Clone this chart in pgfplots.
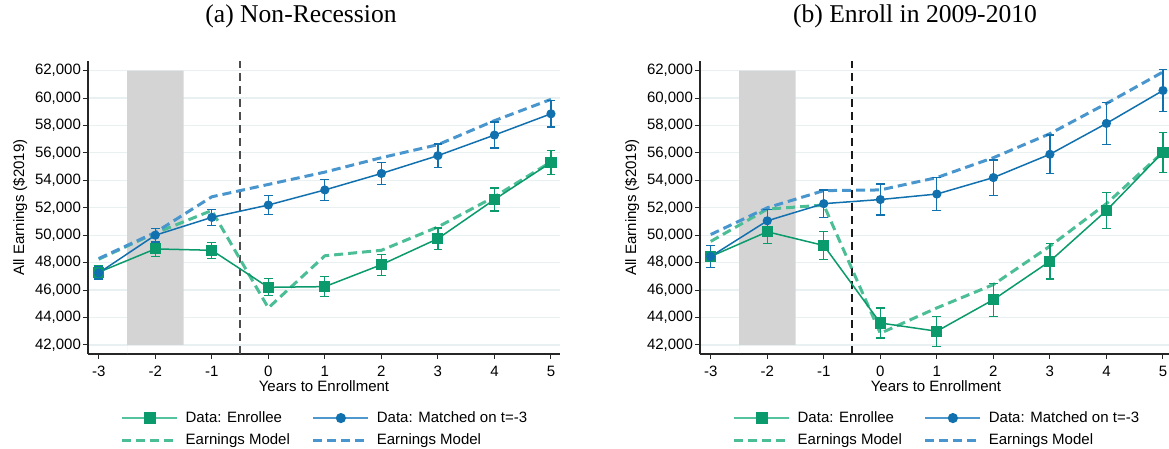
\documentclass[border=0pt]{standalone}
\usepackage{fontspec}
\setmainfont{Liberation Sans}
\newfontfamily\titlefont{Liberation Serif}
\usepackage{pgfplots}
\pgfplotsset{compat=1.18}
\definecolor{gD}{HTML}{0A9A6C}
\definecolor{bD}{HTML}{1170AE}
\definecolor{gM}{HTML}{4BBE96}
\definecolor{bM}{HTML}{4896CD}
\definecolor{gL}{HTML}{55C49E}
\definecolor{bL}{HTML}{4F98CE}
\definecolor{gridc}{HTML}{E9F0F2}
\definecolor{shade}{HTML}{D4D4D4}
\pgfplotsset{
  panel/.style={
    anchor=south west, scale only axis,
    width=236pt, height=146.5pt,
    xmin=-3.19, xmax=5.16, ymin=41340, ymax=62700,
    axis x line*=bottom, axis y line*=left,
    axis line style={black!85, line width=0.6pt},
    xtick={-3,-2,-1,0,1,2,3,4,5},
    xticklabels={-3,-2,-1,0,1,2,3,4,5},
    ytick={42000,44000,46000,48000,50000,52000,54000,56000,58000,60000,62000},
    yticklabels={{42,000},{44,000},{46,000},{48,000},{50,000},{52,000},{54,000},{56,000},{58,000},{60,000},{62,000}},
    scaled y ticks=false,
    tick align=outside, major tick length=2.5pt,
    tick style={black!85, line width=0.5pt},
    ymajorgrids, major grid style={gridc, line width=0.6pt},
    tick label style={font=\fontsize{7.5}{8}\selectfont},
    yticklabel style={xshift=2.5pt},
    label style={font=\fontsize{7.5}{8}\selectfont},
    xlabel={Years to Enrollment}, ylabel={All Earnings (\$2019)},
    xlabel style={yshift=5pt},
    ylabel style={yshift=-3pt},
    legend columns=2,
    legend style={at={(0.504,-0.18)}, anchor=north, draw=none, fill=none,
      font=\fontsize{7.5}{8}\selectfont, inner sep=0pt,
      cells={anchor=west, inner sep=1pt},
      /tikz/every odd column/.style={column sep=1.5pt},
      /tikz/every even column/.style={column sep=9pt},
      row sep=0.3pt},
    legend image code/.code={\draw[mark repeat=2,mark phase=2,##1] plot coordinates {(0pt,0pt)(13.75pt,0pt)(27.5pt,0pt)};},
  },
  gdata/.style={gD, line width=0.75pt, mark=square*, mark size=2.4pt, mark options={solid, fill=gD},
    error bars/.cd, y dir=both, y explicit, error bar style={gD, line width=0.6pt}, error mark options={gD, line width=0.6pt, mark size=2.2pt, rotate=90}},
  bdata/.style={bD, line width=0.75pt, mark=*, mark size=1.9pt, mark options={solid, fill=bD},
    error bars/.cd, y dir=both, y explicit, error bar style={bD, line width=0.6pt}, error mark options={bD, line width=0.6pt, mark size=2.2pt, rotate=90}},
  gmodel/.style={gM, line width=1.5pt, dash pattern=on 4.5pt off 2.5pt, no marks},
  bmodel/.style={bM, line width=1.5pt, dash pattern=on 4.5pt off 2.5pt, no marks},
}
\begin{document}
\begin{tikzpicture}
\useasboundingbox (0pt,0pt) rectangle (584.5pt,224.5pt);
\node[font=\titlefont\fontsize{12.8}{14}\selectfont] at (150.5pt,216.5pt) {(a) Non-Recession};
\node[font=\titlefont\fontsize{12.8}{14}\selectfont] at (457.5pt,216.5pt) {(b) Enroll in 2009-2010};
% ---------- Panel (a)
\begin{axis}[panel, at={(44pt,47.5pt)}]
\addlegendimage{gL, line width=1.2pt, mark=square*, mark size=2.4pt, mark options={gD, fill=gD}}
\addlegendentry{Data: Enrollee}
\addlegendimage{bL, line width=1.2pt, mark=*, mark size=1.9pt, mark options={bD, fill=bD}}
\addlegendentry{Data: Matched on t=-3}
\addlegendimage{gmodel}
\addlegendentry{Earnings Model}
\addlegendimage{bmodel}
\addlegendentry{Earnings Model}
\addplot[forget plot, fill=shade, draw=none] coordinates {(-2.5,42000) (-1.5,42000) (-1.5,62000) (-2.5,62000)} \closedcycle;
\addplot[forget plot, black!70, line width=0.8pt, dash pattern=on 4pt off 2.5pt] coordinates {(-0.5,41340) (-0.5,62700)};
\addplot[forget plot, gmodel] coordinates {(-3,48250) (-2,50150) (-1,51800) (0,44700) (1,48500) (2,48900) (3,50600) (4,52800) (5,55350)};
\addplot[forget plot, bmodel] coordinates {(-3,48300) (-2,50200) (-1,52800) (0,53700) (1,54600) (2,55650) (3,56600) (4,58350) (5,59900)};
\addplot[forget plot, gdata] coordinates {(-3,47300) +- (0,500) (-2,49000) +- (0,550) (-1,48900) +- (0,580) (0,46200) +- (0,620) (1,46250) +- (0,720) (2,47850) +- (0,770) (3,49750) +- (0,770) (4,52600) +- (0,840) (5,55300) +- (0,850)};
\addplot[forget plot, bdata] coordinates {(-3,47250) +- (0,450) (-2,50000) +- (0,500) (-1,51300) +- (0,600) (0,52200) +- (0,700) (1,53300) +- (0,750) (2,54500) +- (0,800) (3,55800) +- (0,850) (4,57300) +- (0,950) (5,58850) +- (0,960)};
\end{axis}
% ---------- Panel (b)
\begin{axis}[panel, at={(350pt,47.5pt)}]
\addlegendimage{gL, line width=1.2pt, mark=square*, mark size=2.4pt, mark options={gD, fill=gD}}
\addlegendentry{Data: Enrollee}
\addlegendimage{bL, line width=1.2pt, mark=*, mark size=1.9pt, mark options={bD, fill=bD}}
\addlegendentry{Data: Matched on t=-3}
\addlegendimage{gmodel}
\addlegendentry{Earnings Model}
\addlegendimage{bmodel}
\addlegendentry{Earnings Model}
\addplot[forget plot, fill=shade, draw=none] coordinates {(-2.5,42000) (-1.5,42000) (-1.5,62000) (-2.5,62000)} \closedcycle;
\addplot[forget plot, black!90, line width=0.8pt, dash pattern=on 4pt off 2.5pt] coordinates {(-0.5,41340) (-0.5,62700)};
\addplot[forget plot, gmodel] coordinates {(-3,49550) (-2,51900) (-1,52200) (0,42850) (1,44700) (2,46400) (3,49200) (4,52300) (5,56050)};
\addplot[forget plot, bmodel] coordinates {(-3,50050) (-2,52000) (-1,53250) (0,53300) (1,54200) (2,55650) (3,57400) (4,59600) (5,61900)};
\addplot[forget plot, gdata] coordinates {(-3,48450) +- (0,800) (-2,50250) +- (0,850) (-1,49250) +- (0,1000) (0,43600) +- (0,1100) (1,43000) +- (0,1100) (2,45300) +- (0,1200) (3,48100) +- (0,1300) (4,51800) +- (0,1330) (5,56050) +- (0,1460)};
\addplot[forget plot, bdata] coordinates {(-3,48450) +- (0,800) (-2,51050) +- (0,850) (-1,52300) +- (0,1000) (0,52600) +- (0,1130) (1,53000) +- (0,1200) (2,54200) +- (0,1280) (3,55900) +- (0,1400) (4,58150) +- (0,1550) (5,60550) +- (0,1530)};
\end{axis}
\end{tikzpicture}
\end{document}
